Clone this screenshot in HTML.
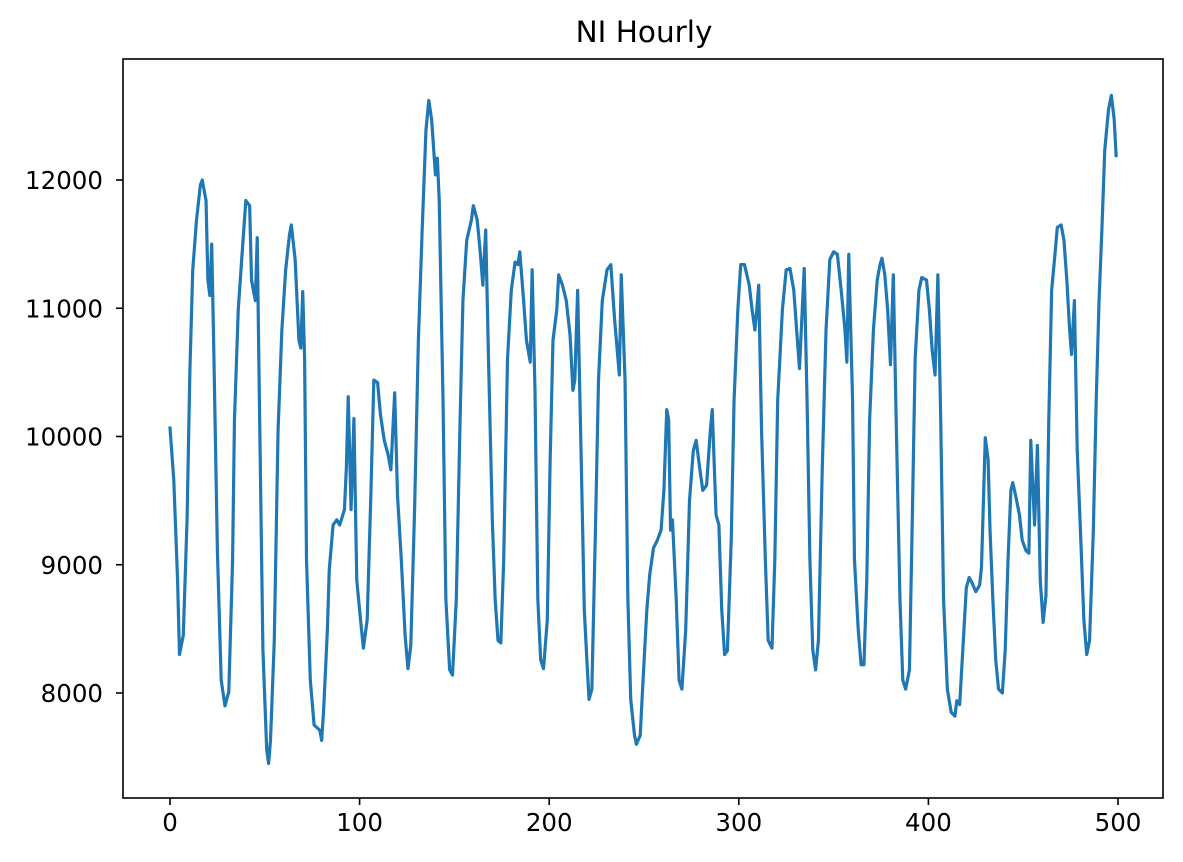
<!DOCTYPE html>
<html><head><meta charset="utf-8"><style>
html,body{margin:0;padding:0;background:#fff;}
svg{display:block;font-family:"DejaVu Sans","Liberation Sans",sans-serif;}
</style></head><body>
<svg id="chart" width="1183" height="862" xmlns="http://www.w3.org/2000/svg">
<rect x="0" y="0" width="1183" height="862" fill="#fff"/>
<text x="644" y="42" text-anchor="middle" font-size="29.5" fill="#000">NI Hourly</text>
<g id="plot"></g>
</svg>
<script>
const xTicks = [0,100,200,300,400,500];
const yTicks = [8000,9000,10000,11000,12000];
const hours = [0,2,4,5,7,9,10.5,12,14,16,17,19,20,21,22,23,25,27,29,31,33,34,36,38,40,42,43,45,46,47,49,51,52,53,55,57,59,61,63,64,66,68,69,70,71,72,74,76,79,80,81,83,84,86,88,89.5,92,93,94,95.5,97,98.5,100.5,102,104,106,107.5,109.5,111,113,115,116.5,118.5,120,122,124,125.5,127,129,131,133,135,136.5,138,140,141,142,144,145.5,147.5,149,151,153,154.5,156.5,159,160,162,163.5,165,166.5,168,170,171.5,173,174.5,176,178,180,182,183.5,184.5,186.5,188,190,191,192.5,194,195.5,197,199,200.5,202,204,205,207,209,211,212.5,213.5,215,217,218.5,220,221,222.5,224.5,226,228,230.5,232.5,234.5,237,238,240,241.5,243,245,246,248,249.5,251.5,253,255,257,259,260.5,262,263,264,265,267,268.5,270,272,274,276,277.5,279.5,281,283,285,286,288,289.5,291,292.5,294,296,297.5,299.5,301,303,305.5,307,308.5,309.5,310.5,312,314,315.5,317.5,319,320.5,323,325,327,329,330.5,332,334.5,336,337.5,339,340.5,342,344,346,348,350,352,354,356,357,358,360,361,363,364.5,366,367.5,369,371,373,374.5,375.5,377,378.5,380,381.5,383,385,386.5,388,390,391.5,393,395,396.5,399,400.5,402,403.5,405,406.5,408,410,412,414,415,416.5,418,420,421.5,423,425,427,428,430,431.5,432.5,434,435.5,437,439,440.5,442,443.5,444.5,446,448,449.5,451.5,453,454,456,457.5,459,460.5,462,463.5,465,466.5,468,470,471.5,473,474.5,475.5,477,478.5,480.5,482,483.5,485,487,488.5,490,491.5,493,495,496.5,498,499];
const loads = [10066,9660,8880,8300,8450,9350,10520,11300,11690,11960,12000,11840,11220,11100,11500,10750,9110,8100,7900,8010,9030,10130,10990,11420,11840,11800,11220,11060,11550,10440,8340,7560,7450,7630,8410,10050,10830,11300,11570,11650,11380,10750,10690,11130,10600,9040,8100,7750,7710,7630,7860,8490,8960,9310,9350,9310,9430,9750,10310,9430,10140,8880,8570,8350,8570,9580,10440,10420,10170,9970,9860,9740,10340,9540,9040,8450,8190,8370,9430,10750,11610,12390,12620,12470,12040,12170,11840,10280,8730,8180,8140,8730,10130,11060,11530,11690,11800,11690,11460,11180,11610,10600,9350,8730,8410,8390,9040,10600,11140,11360,11340,11440,11060,10750,10580,11300,10360,8730,8260,8190,8570,9820,10750,10990,11260,11180,11060,10790,10360,10440,11140,9740,8650,8220,7950,8030,9350,10440,11060,11300,11340,10910,10480,11260,10440,8730,7950,7670,7600,7670,8100,8650,8920,9130,9190,9270,9580,10210,10130,9270,9350,8730,8100,8030,8490,9500,9890,9970,9740,9580,9620,10050,10210,9390,9310,8650,8300,8330,9190,10280,10990,11340,11340,11180,10990,10830,10990,11180,10050,9040,8410,8350,9040,10280,10990,11300,11310,11140,10830,10530,11310,10280,9040,8340,8180,8410,9740,10830,11380,11440,11420,11140,10830,10580,11420,10280,9040,8490,8220,8220,8880,10130,10830,11220,11340,11390,11260,10990,10560,11260,10130,8730,8100,8030,8180,9350,10600,11140,11240,11220,10990,10670,10480,11260,10130,8730,8030,7850,7820,7940,7910,8300,8820,8900,8860,8790,8840,8980,9990,9820,9270,8730,8260,8030,8000,8330,9040,9580,9640,9540,9390,9190,9110,9090,9970,9310,9930,8880,8550,8760,10130,11140,11380,11630,11650,11530,11220,10830,10640,11060,9890,9150,8570,8300,8410,9270,10280,11060,11610,12230,12550,12660,12470,12190];

const NS='http://www.w3.org/2000/svg';
const L=123,R=1163,T=59,B=798;
const xScale=v=>170+v*(1118-170)/500;
const yScale=v=>693-(v-8000)*(693-180)/4000;
const g=document.getElementById('plot');
function mk(tag,attrs){const e=document.createElementNS(NS,tag);for(const k in attrs)e.setAttribute(k,attrs[k]);g.appendChild(e);return e;}

let d='';
hours.forEach((h,i)=>{d+=(i?'L':'M')+xScale(h).toFixed(2)+','+yScale(loads[i]).toFixed(2);});
const line=mk('path',{d:d,fill:'none',stroke:'#1f77b4','stroke-width':3.2,'stroke-linejoin':'round','stroke-linecap':'square'});



const frame=mk('rect',{x:L,y:T,width:R-L,height:B-T,fill:'none',stroke:'#000','stroke-width':1.6});



xTicks.forEach(v=>{
  const x=xScale(v);
  const t=mk('line',{x1:x,x2:x,y1:B,y2:B+7,stroke:'#000','stroke-width':1.6});
  
  
  const lb=mk('text',{x:x,y:B+33,'text-anchor':'middle','font-size':24.5,fill:'#000'});
  lb.textContent=v;
  
  
});
yTicks.forEach(v=>{
  const y=yScale(v);
  const t=mk('line',{x1:L-7,x2:L,y1:y,y2:y,stroke:'#000','stroke-width':1.6});
  
  
  const lb=mk('text',{x:L-20,y:y+9,'text-anchor':'end','font-size':24.5,fill:'#000'});
  lb.textContent=v;
  
  
});
</script>
</body></html>
